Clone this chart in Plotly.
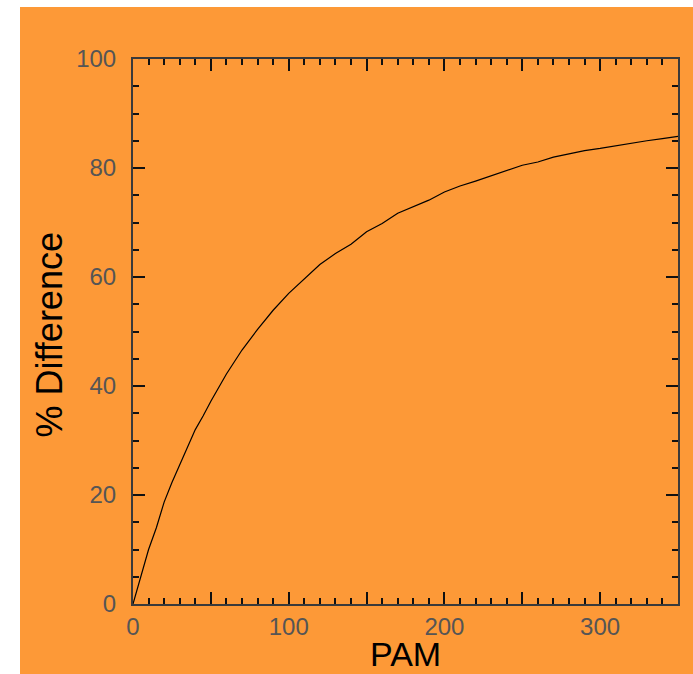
import plotly.graph_objects as go

pam = [0, 5, 10, 15, 20, 25, 30, 35, 40, 45, 50, 60, 70, 80, 90, 100, 110, 120, 130, 140,
       150, 160, 170, 180, 190, 200, 210, 220, 230, 240, 250, 260, 270, 280, 290, 300,
       310, 320, 330, 340, 350]
pct_diff = [0, 5, 10, 14, 18.7, 22.3, 25.5, 28.7, 32, 34.5, 37.2, 42.2, 46.6, 50.4, 53.9,
            57, 59.7, 62.3, 64.3, 66, 68.3, 69.8, 71.7, 72.9, 74.1, 75.6, 76.7, 77.6, 78.6,
            79.6, 80.5, 81.1, 82, 82.6, 83.2, 83.6, 84.1, 84.6, 85, 85.4, 85.8]

x_tickvals = [0, 50, 100, 150, 200, 250, 300]
x_ticktext = ["0", "", "100", "", "200", "", "300"]
y_tickvals = [0, 20, 40, 60, 80, 100]
y_ticktext = ["0", "20", "40", "60", "80", "100"]
x_title = "PAM"
y_title = "% Difference"

ORANGE = "#FD9937"
tickfont = dict(family="Liberation Sans", size=24, color="#555555")
titlefont = dict(family="Liberation Sans", size=36, color="#000000")
xtitlefont = dict(family="Liberation Sans", size=34, color="#000000")

fig = go.Figure(go.Scatter(x=pam, y=pct_diff, mode="lines",
                           line=dict(color="#000000", width=1.2), showlegend=False))

W, H = 693, 674
L, R, T, B = 133, 15, 59, 70
pw, ph = W - L - R, H - T - B

axis_common = dict(showgrid=False, zeroline=False, showline=True, linecolor="#3a3a3a",
                   linewidth=2, mirror="allticks", ticks="inside", tickcolor="#111111",
                   tickwidth=1.5, ticklen=12, tickfont=tickfont, automargin=False)

fig.update_layout(
    width=W, height=H,
    margin=dict(l=L, r=R, t=T, b=B, pad=0, autoexpand=False),
    paper_bgcolor=ORANGE, plot_bgcolor=ORANGE,
    xaxis=dict(range=[0, 350], tickmode="array", tickvals=x_tickvals, ticktext=x_ticktext,
               minor=dict(dtick=10, tick0=0, ticks="inside", ticklen=6, tickcolor="#111111",
                          tickwidth=1.5),
               **axis_common),
    yaxis=dict(range=[0, 100], tickmode="array", tickvals=y_tickvals, ticktext=y_ticktext,
               minor=dict(dtick=5, tick0=0, ticks="inside", ticklen=6, tickcolor="#111111",
                          tickwidth=1.5),
               ticklabelstandoff=10,
               **axis_common),
    annotations=[
        dict(text=x_title, xref="paper", yref="paper", x=(405 - L) / pw, y=-(H - 0.5 - (H - B)) / ph,
             xanchor="center", yanchor="bottom", showarrow=False, font=xtitlefont,
             borderpad=0),
        dict(text=y_title, xref="paper", yref="paper", x=(48.5 - L) / pw, y=((H - B) - 335) / ph,
             xanchor="center", yanchor="middle", showarrow=False, font=titlefont, textangle=-90),
    ],
    shapes=[
        dict(type="rect", xref="paper", yref="paper", x0=-L / pw, x1=(20 - L) / pw,
             y0=-B / ph - 0.02, y1=1 + T / ph + 0.02, fillcolor="#ffffff", line=dict(width=0),
             layer="below"),
        dict(type="rect", xref="paper", yref="paper", x0=-L / pw, x1=1 + R / pw + 0.02,
             y0=1 + (T - 7) / ph, y1=1 + T / ph + 0.02, fillcolor="#ffffff", line=dict(width=0),
             layer="below"),
    ],
)

fig.write_html("out.html", config=dict(displayModeBar=False),
               post_script="document.body.style.margin='0';document.body.style.padding='0';")
